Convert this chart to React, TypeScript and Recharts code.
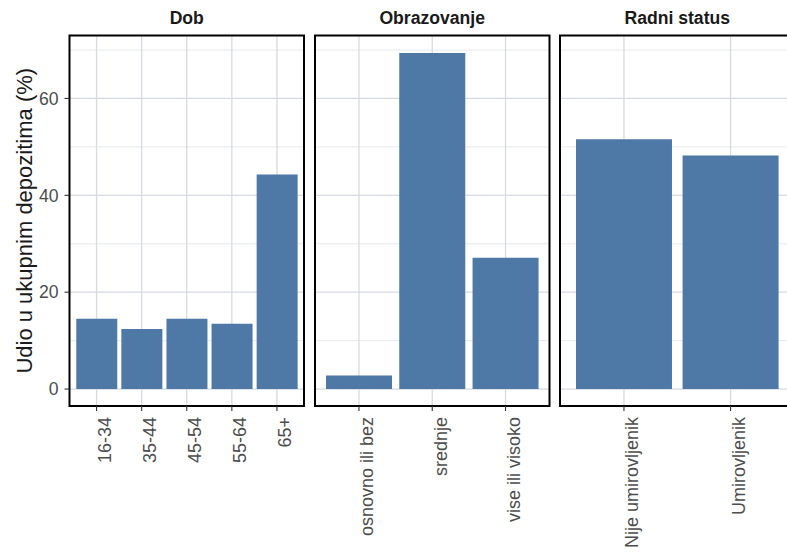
import React from 'react';
import {
  BarChart,
  Bar,
  XAxis,
  YAxis,
  CartesianGrid,
  ReferenceArea,
} from 'recharts';

// ---- data ----
const facetTitles = ['Dob', 'Obrazovanje', 'Radni status'];
const dobCategories = ['16-34', '35-44', '45-54', '55-64', '65+'];
const dobValues = [14.5, 12.4, 14.5, 13.5, 44.3];
const obrCategories = ['osnovno ili bez', 'srednje', 'vise ili visoko'];
const obrValues = [2.8, 69.4, 27.1];
const radCategories = ['Nije umirovljenik', 'Umirovljenik'];
const radValues = [51.6, 48.2];
const yTicks = [0, 20, 40, 60];
const yMinorTicks = [10, 30, 50, 70];
const yDomain: [number, number] = [-3.5, 73];
const yTitle = 'Udio u ukupnim depozitima (%)';

const FONT = '"Liberation Sans", Arial, Helvetica, sans-serif';
const BAR = '#4E79A7';
const GRID_MAJOR = '#D6DAE2';
const GRID_MINOR = '#E3E6EC';

const PLOT_TOP = 35.5;
const X_AXIS_H = 146;
const PLOT_W = 234.5;
const CHART_H = 552;

const XTick = (props: any) => {
  const { x, y, payload } = props;
  return (
    <text
      x={x}
      y={y}
      dy={14.5}
      transform={`rotate(-90, ${x}, ${y})`}
      textAnchor="end"
      fill="#4D4D4D"
      fontSize={18}
      fontFamily={FONT}
    >
      {payload.value}
    </text>
  );
};

type PanelProps = {
  title: string;
  categories: string[];
  values: number[];
  left: number;
  showY: boolean;
};

const Panel = ({ title, categories, values, left, showY }: PanelProps) => {
  const data = categories.map((c, i) => ({ cat: c, value: values[i] }));
  const n = categories.length;
  const pad = (PLOT_W * 0.1) / (n + 0.2);
  const yW = 69.5;
  const mLeft = showY ? 0 : 2;
  const width = (showY ? yW : mLeft) + PLOT_W + 2;
  return (
    <div style={{ position: 'absolute', left, top: 0 }}>
      <BarChart
        width={width}
        height={CHART_H}
        data={data}
        margin={{ top: PLOT_TOP, right: 2, bottom: 0, left: mLeft }}
        barCategoryGap="5%"
      >
        <CartesianGrid
          stroke={GRID_MINOR}
          strokeWidth={0.9}
          vertical={false}
          horizontalValues={yMinorTicks}
        />
        <CartesianGrid stroke={GRID_MAJOR} strokeWidth={1.3} horizontalValues={yTicks} />
        <XAxis
          dataKey="cat"
          type="category"
          interval={0}
          height={X_AXIS_H}
          padding={{ left: pad, right: pad }}
          axisLine={false}
          tickSize={5}
          tickMargin={6}
          tickLine={{ stroke: '#333333', strokeWidth: 1.1 }}
          tick={<XTick />}
        />
        <XAxis xAxisId="frame" hide />
        <YAxis
          hide={!showY}
          width={yW}
          domain={yDomain}
          allowDataOverflow
          ticks={yTicks}
          type="number"
          axisLine={false}
          tickSize={5}
          tickMargin={6}
          tickLine={{ stroke: '#333333', strokeWidth: 1.1 }}
          tick={{ fill: '#4D4D4D', fontSize: 17.6, fontFamily: FONT }}
          label={
            showY
              ? {
                  value: yTitle,
                  angle: -90,
                  position: 'insideLeft',
                  offset: 24,
                  fill: '#1A1A1A',
                  fontSize: 22,
                  fontFamily: FONT,
                  style: { textAnchor: 'middle' },
                }
              : undefined
          }
        />
        <Bar dataKey="value" fill={BAR} isAnimationActive={false} />
        <ReferenceArea
          xAxisId="frame"
          x1={0}
          x2={n - 1}
          y1={yDomain[0]}
          y2={yDomain[1]}
          ifOverflow="visible"
          fill="none"
          fillOpacity={0}
          stroke="#000000"
          strokeWidth={2}
          strokeOpacity={1}
          label={{
            value: title,
            position: 'top',
            offset: 11.2,
            fill: '#1A1A1A',
            fontSize: 17.6,
            fontWeight: 'bold',
            fontFamily: FONT,
          }}
        />
      </BarChart>
    </div>
  );
};

export default function App() {
  return (
    <div
      style={{
        position: 'absolute',
        left: 0,
        top: 0,
        width: 787,
        height: 552,
        overflow: 'hidden',
        background: '#ffffff',
      }}
    >
      <Panel title={facetTitles[0]} categories={dobCategories} values={dobValues} left={0} showY />
      <Panel title={facetTitles[1]} categories={obrCategories} values={obrValues} left={312.5} showY={false} />
      <Panel title={facetTitles[2]} categories={radCategories} values={radValues} left={557.5} showY={false} />
    </div>
  );
}
